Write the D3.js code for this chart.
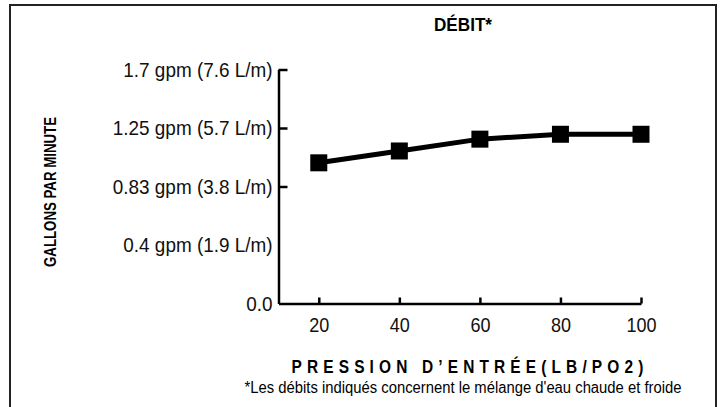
<!DOCTYPE html>
<html>
<head>
<meta charset="utf-8">
<script src="https://cdn.jsdelivr.net/npm/d3@7"></script>
<style>
  body { margin: 0; background: #fff; }
  svg { display: block; }
  .axis path, .axis line { stroke: #000; stroke-width: 2.5; }
  .axis text { font-family: "Liberation Sans", Arial, sans-serif; fill: #111; }
</style>
</head>
<body>
<div id="chart"></div>
<script>
// Data
const pressures = [20, 40, 60, 80, 100];
const flows = [1.0, 1.085, 1.17, 1.205, 1.205];

// Y ticks (equally spaced on the original chart)
const yTicks = [0, 0.4, 0.83, 1.25, 1.7];
const yTickLabels = ["0.0", "0.4 gpm (1.9 L/m)", "0.83 gpm (3.8 L/m)", "1.25 gpm (5.7 L/m)", "1.7 gpm (7.6 L/m)"];
const xTicks = [20, 40, 60, 80, 100];

const width = 726, height = 407;
const font = "'Liberation Sans', Arial, sans-serif";

// squeeze a text horizontally, the original uses a condensed face
function condense(sel, k) {
    sel.each(function() {
        const w = this.getComputedTextLength();
        d3.select(this)
            .attr("textLength", w * k)
            .attr("lengthAdjust", "spacingAndGlyphs");
    });
}

const svg = d3.select("#chart")
    .append("svg")
    .attr("width", width)
    .attr("height", height);

// Frame
svg.append("path")
    .attr("d", `M10,${height} L10,5 L716,5 L716,${height}`)
    .attr("fill", "none")
    .attr("stroke", "#222")
    .attr("stroke-width", 2);

const x = d3.scaleLinear()
    .domain([10, 100])
    .range([278.5, 641]);

// piecewise scale so the labelled ticks are evenly spaced
const y = d3.scaleLinear()
    .domain(yTicks)
    .range([303.5, 245, 186.5, 128, 69.5]);

// X axis
const xAxis = svg.append("g")
    .attr("class", "axis")
    .attr("transform", `translate(0,${y(0)})`)
    .call(d3.axisBottom(x)
        .tickValues(xTicks)
        .tickSizeInner(-6)
        .tickSizeOuter(0)
        .tickPadding(14));

xAxis.selectAll("text").style("font-size", "20px");
condense(xAxis.selectAll("text"), 0.9);

// Y axis
const yAxis = svg.append("g")
    .attr("class", "axis")
    .attr("transform", `translate(${x(10)},0)`)
    .call(d3.axisLeft(y)
        .tickValues(yTicks)
        .tickFormat((d, i) => yTickLabels[i])
        .tickSizeInner(-9)
        .tickSizeOuter(0)
        .tickPadding(6));

// no tick marks on the 0.0 and 0.4 rows
yAxis.selectAll(".tick line")
    .filter(d => d === 0 || d === 0.4)
    .remove();

yAxis.selectAll("text").style("font-size", "21px");
condense(yAxis.selectAll("text"), 0.9);

// Line
const line = d3.line()
    .x((d, i) => x(pressures[i]))
    .y(d => y(d));

svg.append("path")
    .datum(flows)
    .attr("fill", "none")
    .attr("stroke", "#000")
    .attr("stroke-width", 5)
    .attr("d", line);

const ms = 17;
svg.append("g")
    .selectAll("rect")
    .data(flows)
    .enter().append("rect")
    .attr("x", (d, i) => x(pressures[i]) - ms / 2)
    .attr("y", d => y(d) - ms / 2)
    .attr("width", ms)
    .attr("height", ms)
    .attr("fill", "#000");

// Title
svg.append("text")
    .attr("x", 463)
    .attr("y", 31)
    .attr("text-anchor", "middle")
    .style("font-family", font)
    .style("font-weight", "bold")
    .style("font-size", "18px")
    .attr("textLength", 58)
    .attr("lengthAdjust", "spacingAndGlyphs")
    .text("DÉBIT*");

// Y axis title
svg.append("text")
    .attr("transform", "translate(56,192) rotate(-90)")
    .attr("text-anchor", "middle")
    .style("font-family", font)
    .style("font-weight", "bold")
    .style("font-size", "16px")
    .attr("textLength", 150)
    .attr("lengthAdjust", "spacingAndGlyphs")
    .text("GALLONS PAR MINUTE");

// X axis title
svg.append("text")
    .attr("x", 470)
    .attr("y", 373)
    .attr("text-anchor", "middle")
    .style("font-family", font)
    .style("font-weight", "bold")
    .style("font-size", "18px")
    .style("letter-spacing", "6px")
    .attr("textLength", 357)
    .attr("lengthAdjust", "spacingAndGlyphs")
    .text("PRESSION D’ENTRÉE(LB/PO2)");

// Footnote
svg.append("text")
    .attr("x", 463)
    .attr("y", 393)
    .attr("text-anchor", "middle")
    .style("font-family", font)
    .style("font-size", "16px")
    .attr("textLength", 437)
    .attr("lengthAdjust", "spacingAndGlyphs")
    .text("*Les débits indiqués concernent le mélange d'eau chaude et froide");
</script>
</body>
</html>
